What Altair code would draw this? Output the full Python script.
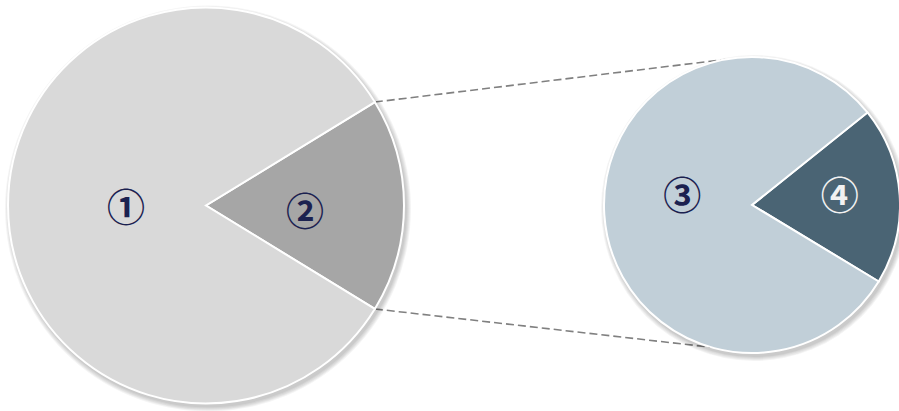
import math
import altair as alt
import pandas as pd

# ---- data ----
left_labels = ["②", "①"]
left_values = [17.5, 82.5]
left_colors = ["#a6a6a6", "#d9d9d9"]
left_text_colors = ["#1b2150", "#1b2150"]

right_labels = ["④", "③"]
right_values = [19.4, 80.6]
right_colors = ["#4a6474", "#c1cfd8"]
right_text_colors = ["#f2f2f2", "#1b2150"]

# ---- layout ----
W, H = 899, 411
LCX, LCY, LR = 206, 205.5, 198
RCX, RCY, RR = 752, 205, 148
left_label_r = [99, 80]
left_label_dy = [8, 4.5]
right_label_r = [88, 70]
right_label_dy = [-1.2, -11.6]
RIGHT_TILT = math.radians(3.8)
CONNECT_TOP = math.radians(-10.4)
CONNECT_BOTTOM = math.radians(196)
FONT = "Liberation Serif, DejaVu Serif, Noto Sans CJK JP"

left_share = left_values[0] / sum(left_values)
right_share = right_values[0] / sum(right_values)
left_start = math.pi / 2 - math.pi * left_share
right_start = math.pi / 2 - math.pi * right_share - RIGHT_TILT


def frame(labels, values, colors, tcolors, lr, ldy, cy, start):
    total = sum(values)
    mids, acc = [], 0.0
    for v in values:
        mids.append(start + 2 * math.pi * (acc + v / 2) / total)
        acc += v
    return pd.DataFrame({
        "label": labels, "value": values, "color": colors,
        "tcolor": tcolors, "lr": lr, "order": list(range(len(labels))),
        "mid": mids, "ty": [cy + d for d in ldy],
    })


ldf = frame(left_labels, left_values, left_colors, left_text_colors,
            left_label_r, left_label_dy, LCY, left_start)
rdf = frame(right_labels, right_values, right_colors, right_text_colors,
            right_label_r, right_label_dy, RCY, right_start)


def pie(df, cx, cy, r, start):
    theta = alt.Theta("value:Q", stack=True,
                      scale=alt.Scale(range=[start, start + 2 * math.pi]))
    shadows = [
        alt.Chart(pd.DataFrame({"k": [k]})).mark_arc(
            theta=0, theta2=2 * math.pi, radius=r + k, color="#000000", opacity=0.045
        ).encode(x=alt.value(cx + 2), y=alt.value(cy + 3))
        for k in (1, 2, 3, 4, 5)
    ]
    arc = alt.Chart(df).mark_arc(radius=r, stroke="white", strokeWidth=2).encode(
        theta=theta,
        order=alt.Order("order:Q"),
        color=alt.Color("color:N", scale=None),
        x=alt.value(cx), y=alt.value(cy),
    )
    text = alt.Chart(df).mark_text(
        font=FONT, fontSize=38, fontWeight="bold", align="center", baseline="middle"
    ).encode(
        theta=alt.Theta("mid:Q", scale=None, stack=False),
        radius=alt.Radius("lr:Q", scale=None),
        text="label:N",
        color=alt.Color("tcolor:N", scale=None),
        x=alt.value(cx),
        y=alt.Y("ty:Q", scale=None),
    )
    return shadows + [arc, text]


def pt(cx, cy, r, th):
    return cx + r * math.sin(th), cy - r * math.cos(th)


p1 = pt(LCX, LCY, LR, left_start)
p2 = pt(LCX, LCY, LR, left_start + 2 * math.pi * left_share)
q1 = pt(RCX, RCY, RR, CONNECT_TOP)
q2 = pt(RCX, RCY, RR, CONNECT_BOTTOM)
conn = pd.DataFrame({
    "x": [p1[0], p2[0]], "y": [p1[1], p2[1]],
    "x2": [q1[0], q2[0]], "y2": [q1[1], q2[1]],
})
connectors = alt.Chart(conn).mark_rule(
    color="#808080", strokeWidth=1.6, strokeDash=[8, 4]
).encode(
    x=alt.X("x:Q", scale=None), y=alt.Y("y:Q", scale=None),
    x2="x2:Q", y2="y2:Q",
)

layers = [connectors] + pie(ldf, LCX, LCY, LR, left_start) + pie(rdf, RCX, RCY, RR, right_start)

chart = alt.layer(*layers).resolve_scale(
    theta="independent", color="independent", radius="independent"
).properties(
    width=W, height=H, padding=0, autosize=alt.AutoSizeParams(type="none"),
    background="white",
).configure_view(stroke=None)

chart.save("out.html", embed_options={"renderer": "svg", "actions": False})
